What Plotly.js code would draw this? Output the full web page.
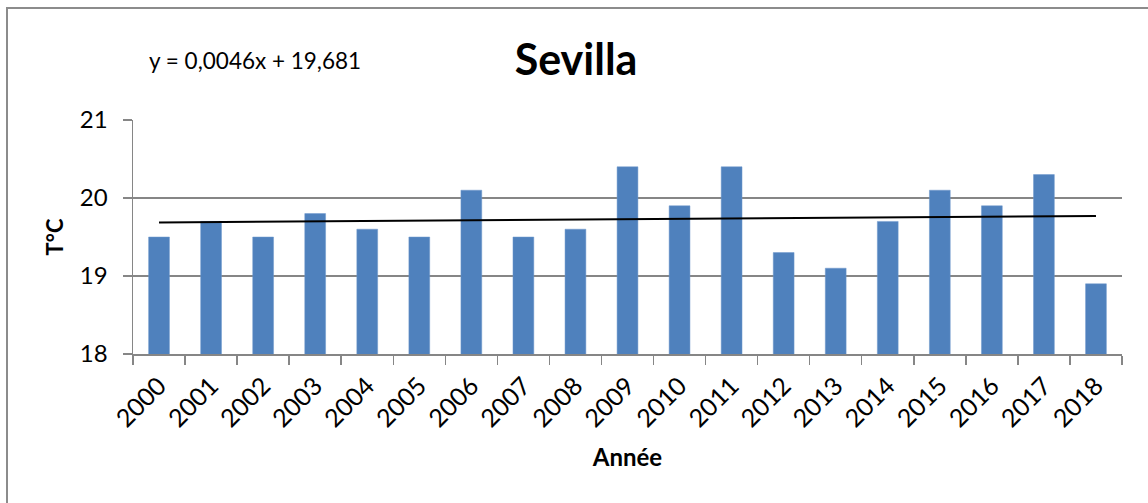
<!DOCTYPE html>
<html>
<head>
<meta charset="utf-8">
<script src="https://cdn.plot.ly/plotly-3.0.1.min.js"></script>
<style>
html,body{margin:0;padding:0;background:#fff;}
#wrap{position:relative;width:1148px;height:503px;}
#chart{position:absolute;left:0;top:0;width:1148px;height:503px;}
#frame{position:absolute;left:6px;top:7px;width:1160px;height:520px;border-top:2px solid #8c8c8c;border-left:2px solid #8c8c8c;pointer-events:none;}
</style>
</head>
<body>
<div id="wrap"><div id="chart"></div><div id="frame"></div></div>
<script>
const years = ["2000","2001","2002","2003","2004","2005","2006","2007","2008","2009","2010","2011","2012","2013","2014","2015","2016","2017","2018"];
const temps = [19.5,19.7,19.5,19.8,19.6,19.5,20.1,19.5,19.6,20.4,19.9,20.4,19.3,19.1,19.7,20.1,19.9,20.3,18.9];
const trendSlope = 0.0046;
const trendIntercept = 19.681;
const trendLabel = "y = 0,0046x + 19,681";
const chartTitle = "Sevilla";
const xTitle = "Année";
const yTitle = "T°C";

const trendY = years.map((_, i) => trendSlope * (i + 1) + trendIntercept);

const FONT = "Lato, 'Open Sans', sans-serif";

const data = [
  {type:"bar", x:years, y:temps, marker:{color:"#4F81BD", line:{color:"#6f98cc", width:0.5}}, hoverinfo:"x+y"},
  {type:"scatter", mode:"lines", x:years, y:trendY, line:{color:"#000", width:2}, hoverinfo:"skip"}
];

const layout = {
  width:1148, height:503,
  margin:{l:133, r:26, t:120, b:149},
  paper_bgcolor:"#fff", plot_bgcolor:"#fff",
  showlegend:false,
  bargap:0.6,
  font:{family:FONT, color:"#000", size:20},
  title:{text:"<b>"+chartTitle+"</b>", x:0.448, xref:"paper", xanchor:"center", y:0.88, yref:"container", yanchor:"middle",
         font:{family:FONT, size:43, color:"#000"}},
  xaxis:{type:"category", showline:true, linecolor:"#868686", linewidth:1.5,
         ticks:"outside", tickson:"boundaries", ticklen:9, tickcolor:"#868686", tickwidth:1.5,
         tickangle:-45, tickfont:{family:FONT, size:25, color:"#000"}, ticklabelstandoff:6,
         title:{text:"<b>"+xTitle+"</b>", font:{family:FONT, size:24, color:"#000"}, standoff:18},
         showgrid:false, zeroline:false},
  yaxis:{range:[18,21], dtick:1, tick0:18, showline:true, linecolor:"#868686", linewidth:1.5,
         ticks:"outside", ticklen:9, tickcolor:"#868686", tickwidth:1.5,
         showgrid:true, gridcolor:"#868686", gridwidth:1.5, zeroline:false,
         tickfont:{family:FONT, size:24, color:"#000"}, ticklabelstandoff:10,
         title:{text:"<b>"+yTitle+"</b>", font:{family:FONT, size:22, color:"#000"}, standoff:10}},
  annotations:[{text:trendLabel, xref:"paper", yref:"paper", x:0.014, y:1.256, xanchor:"left", yanchor:"middle",
                showarrow:false, font:{family:FONT, size:22.5, color:"#000"}}]
};

Plotly.newPlot("chart", data, layout, {displayModeBar:false, staticPlot:true});
</script>
</body>
</html>
